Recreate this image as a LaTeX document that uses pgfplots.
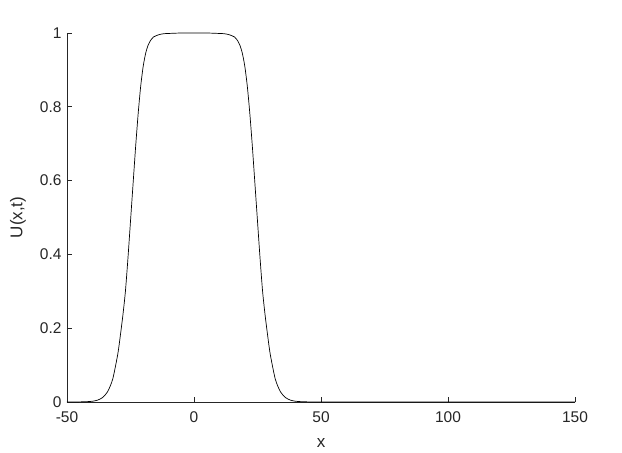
\documentclass[border=0pt]{standalone}
\usepackage{fontspec}
\setmainfont{Liberation Sans}
\usepackage{pgfplots}
\pgfplotsset{compat=1.18}

\begin{document}
\begin{tikzpicture}
\begin{axis}[
  scale only axis, width=508pt, height=369pt,
  xmin=-50, xmax=150, ymin=0, ymax=1,
  axis x line*=bottom, axis y line*=left,
  axis line style={line width=0.8pt, black!85},
  tick align=inside, major tick length=5pt,
  tick style={line width=0.8pt, black!85},
  xtick={-50,0,50,100,150}, ytick={0,0.2,0.4,0.6,0.8,1},
  /pgf/number format/assume math mode=true,
  tick label style={font=\fontsize{15.5}{18}\selectfont, black!85},
  label style={font=\fontsize{17}{20}\selectfont, black!85},
  xlabel={x}, ylabel={U(x,t)},
  xticklabel style={yshift=-6pt},
  yticklabel style={xshift=-2pt},
  xlabel style={at={(axis description cs:0.5,-0.111)}, anchor=center},
  ylabel style={at={(axis description cs:-0.0965,0.5)}, anchor=center},
]
\addplot[black, line width=0.7pt, smooth, tension=0.4] coordinates {
(-50,0) (-45,0.0003) (-42,0.001) (-40,0.002) (-38,0.005) (-36,0.012)
(-34,0.028) (-32,0.062) (-30,0.13) (-29,0.18) (-28,0.235) (-27,0.30)
(-26,0.39) (-25,0.49) (-24,0.59) (-23,0.69) (-22,0.78) (-21,0.855)
(-20,0.91) (-19,0.946) (-18,0.968) (-17,0.981) (-16,0.989) (-14,0.995)
(-12,0.998) (-9,0.999) (-5,1.0) (0,1.0)
(5,1.0) (9,0.999) (12,0.998) (14,0.995) (16,0.989) (17,0.981)
(18,0.968) (19,0.946) (20,0.91) (21,0.855) (22,0.78) (23,0.69)
(24,0.59) (25,0.49) (26,0.39) (27,0.30) (28,0.235) (29,0.18)
(30,0.13) (32,0.062) (34,0.028) (36,0.012) (38,0.005) (40,0.002)
(42,0.001) (45,0.0003) (50,0) (100,0) (150,0)
};
\end{axis}
\path (current axis.south west) ++(-67pt,-50pt) (current axis.north east) ++(47pt,33pt);
\end{tikzpicture}
\end{document}
